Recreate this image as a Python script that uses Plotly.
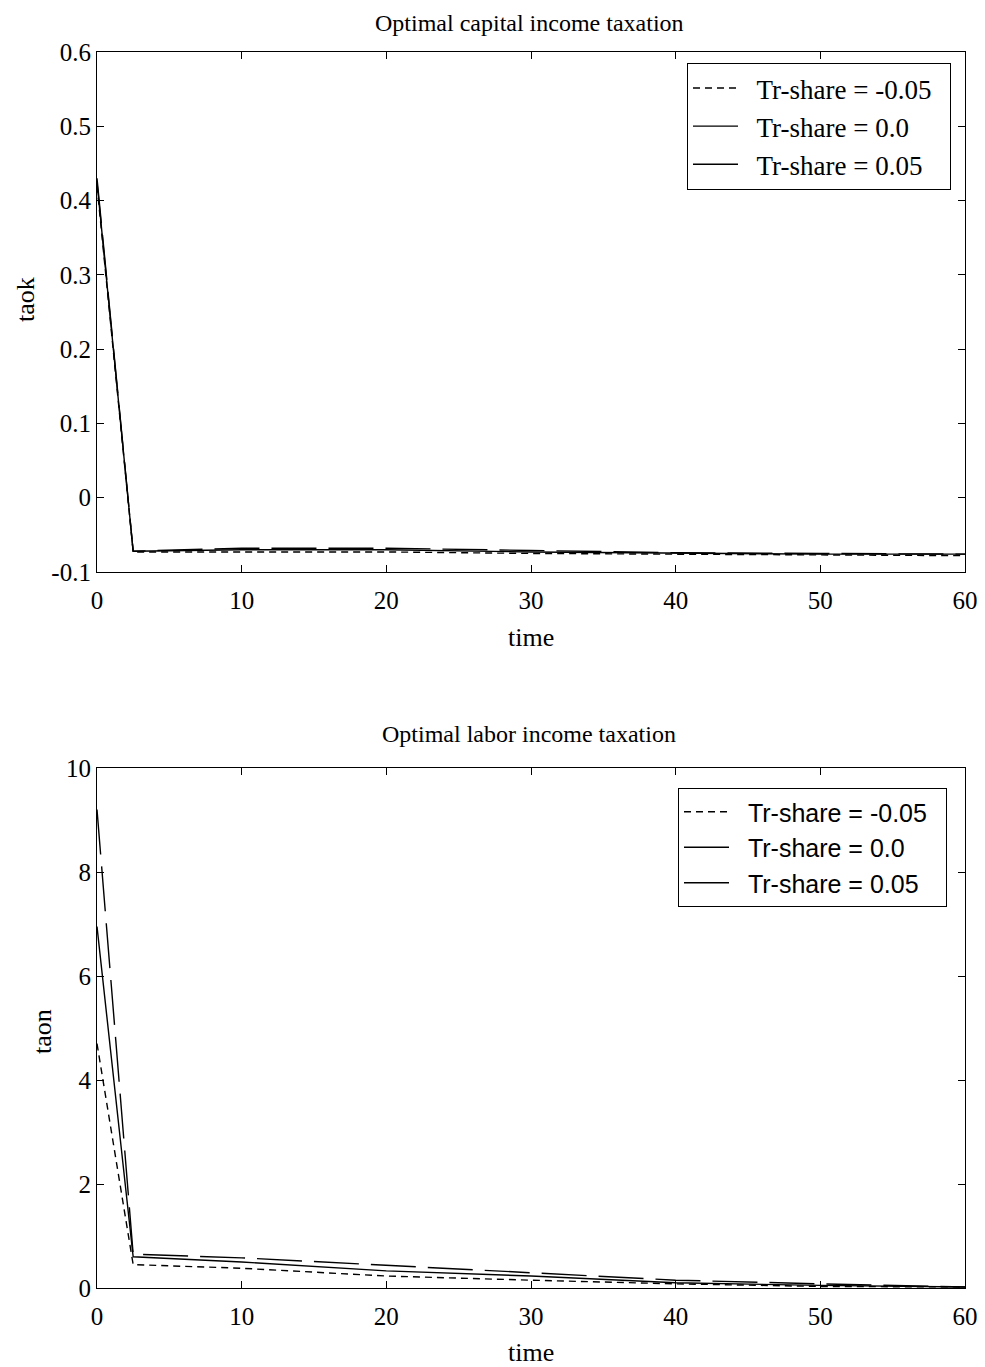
import plotly.graph_objects as go

time = [0, 2.5, 10, 20, 30, 40, 50, 60]
series_names = ["Tr-share = -0.05", "Tr-share = 0.0", "Tr-share = 0.05"]

taok_m05 = [0.42, -0.073, -0.073, -0.073, -0.075, -0.076, -0.077, -0.078]
taok_0 = [0.425, -0.072, -0.070, -0.070, -0.073, -0.075, -0.076, -0.076]
taok_p05 = [0.43, -0.072, -0.068, -0.068, -0.071, -0.074, -0.075, -0.076]

taon_m05 = [4.7, 0.45, 0.38, 0.23, 0.15, 0.08, 0.03, 0.02]
taon_0 = [6.95, 0.60, 0.50, 0.33, 0.23, 0.10, 0.05, 0.02]
taon_p05 = [9.2, 0.65, 0.58, 0.44, 0.29, 0.15, 0.08, 0.02]

x_ticks = [0, 10, 20, 30, 40, 50, 60]
taok_ticks = [-0.1, 0, 0.1, 0.2, 0.3, 0.4, 0.5, 0.6]
taok_ticklabels = ["-0.1", "0", "0.1", "0.2", "0.3", "0.4", "0.5", "0.6"]
taon_ticks = [0, 2, 4, 6, 8, 10]

dash_styles = ["7px,5px", "solid", "45px,12px"]

SERIF = "Liberation Serif, Times New Roman, serif"
SANS = "Liberation Sans, Arial, sans-serif"
NB = "\u00a0\u00a0"

fig = go.Figure()
for vals, name, d in zip([taok_m05, taok_0, taok_p05], series_names, dash_styles):
    fig.add_trace(go.Scatter(x=time, y=vals, mode="lines", name=NB + name + NB,
                             line=dict(color="black", width=1.4, dash=d),
                             xaxis="x", yaxis="y", legend="legend"))
for vals, name, d in zip([taon_m05, taon_0, taon_p05], series_names, dash_styles):
    fig.add_trace(go.Scatter(x=time, y=vals, mode="lines", name=NB + name + NB,
                             line=dict(color="black", width=1.4, dash=d),
                             xaxis="x2", yaxis="y2", legend="legend2"))

# page has 8px body margin; map reference pixel positions into the figure
OFF = 8
W, H = 985 - OFF, 1367 - OFF


def px(x):
    return (x - OFF) / W


def py(y):
    return 1 - (y - OFF) / H


xd = [px(97), px(965)]
y1d = [py(572), py(52)]
y2d = [py(1288), py(768)]

axis_common = dict(showline=True, linecolor="black", linewidth=1.2, mirror="ticks",
                   ticks="inside", ticklen=7, tickcolor="black", showgrid=False,
                   zeroline=False, automargin=False,
                   tickfont=dict(family=SERIF, size=25, color="black"))

fig.update_layout(
    width=W, height=H, autosize=False, margin=dict(l=0, r=0, t=0, b=0),
    plot_bgcolor="white", paper_bgcolor="white",
    xaxis=dict(domain=xd, anchor="y", range=[0, 60], tickvals=x_ticks,
               ticklabelstandoff=6, **axis_common),
    yaxis=dict(domain=y1d, anchor="x", range=[-0.1, 0.6], tickvals=taok_ticks,
               ticktext=taok_ticklabels, ticklabelstandoff=0, **axis_common),
    xaxis2=dict(domain=xd, anchor="y2", range=[0, 60], tickvals=x_ticks,
                ticklabelstandoff=6, **axis_common),
    yaxis2=dict(domain=y2d, anchor="x2", range=[0, 10], tickvals=taon_ticks,
                ticklabelstandoff=0, **axis_common),
    legend=dict(x=px(951), y=py(63), xanchor="right", yanchor="top",
                bordercolor="black", borderwidth=1, bgcolor="white", itemwidth=45,
                font=dict(family=SERIF, size=27, color="black"), tracegroupgap=0),
    legend2=dict(x=px(947), y=py(788), xanchor="right", yanchor="top",
                 bordercolor="black", borderwidth=1, bgcolor="white", itemwidth=45,
                 font=dict(family=SANS, size=25, color="black"), tracegroupgap=0),
)

ann = [
    ("Optimal capital income taxation", 529, 8, 0, 24, "top"),
    ("time", 531, 638, 0, 26, "middle"),
    ("taok", 25, 300, -90, 26, "middle"),
    ("Optimal labor income taxation", 529, 734, 0, 24, "middle"),
    ("time", 531, 1352, 0, 26, "middle"),
    ("taon", 42, 1032, -90, 26, "middle"),
]
for text, x, y, ang, size, ya in ann:
    fig.add_annotation(text=text, x=px(x), y=py(y), xref="paper", yref="paper",
                       xanchor="center", yanchor=ya, textangle=ang, showarrow=False,
                       font=dict(family=SERIF, size=size, color="black"))

fig.write_html("out.html")
